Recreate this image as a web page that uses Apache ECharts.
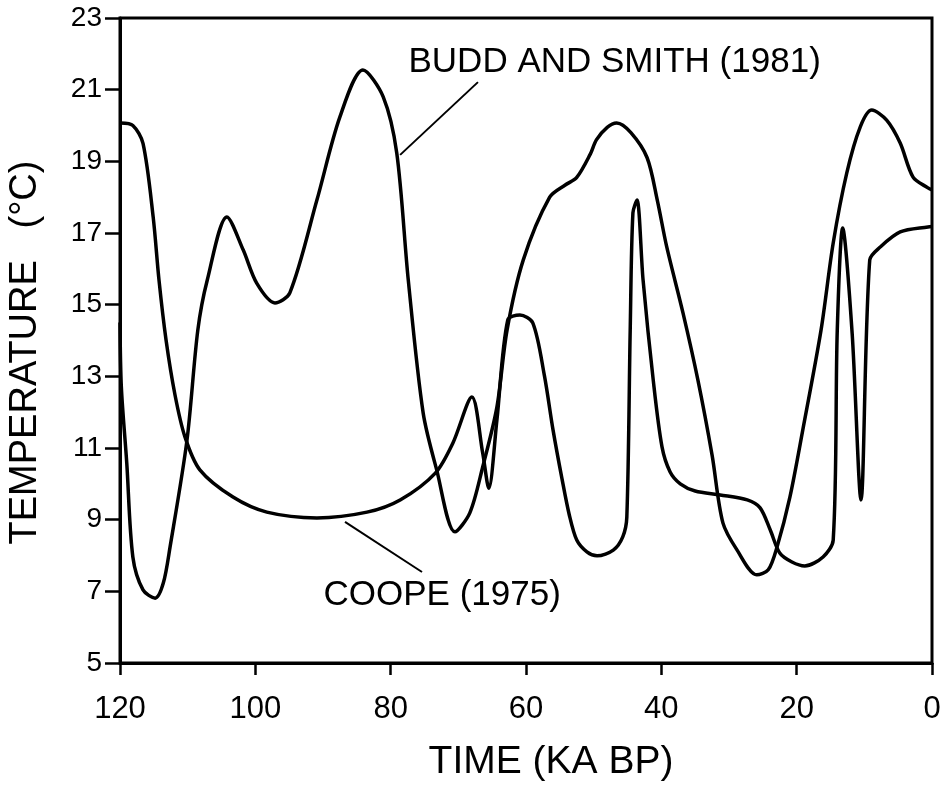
<!DOCTYPE html>
<html>
<head>
<meta charset="utf-8">
<script src="https://cdn.jsdelivr.net/npm/echarts@6/dist/echarts.min.js"></script>
<style>
html,body{margin:0;padding:0;background:#fff;}
#chart{width:945px;height:787px;}
</style>
</head>
<body>
<div id="chart"></div>
<script>
// Age (ka BP) and temperature (°C)
const coopeAge  = [119.9,118.1,116.6,115.1,114.24,113.2,111.87,110.4,108.2,103.3,98.3,90.9,83.5,78.6,73.4,70.8,68.0,66.4,65.5,64.3,62.7,60.9,59.0,57.3,56.0,54.7,53.6,52.5,51.0,49.5,47.1,45.7,45.1,44.6,44.2,43.6,42.7,41.2,39.9,38.7,37.2,35.0,31.3,27.3,25.4,23.9,22.5,20.7,18.8,16.1,14.6,14.0,13.2,11.8,10.5,9.2,7.7,4.7,0.6,0];
const coopeTemp = [20.07,20.0,19.5,17.45,15.69,14.02,12.48,11.31,10.39,9.63,9.21,9.05,9.21,9.55,10.30,11.14,12.42,10.86,9.88,11.78,14.57,14.71,14.49,13.04,11.5,10.16,9.13,8.43,8.1,7.99,8.15,8.52,9.07,14.29,17.56,17.92,15.69,12.9,11.03,10.33,10.0,9.8,9.69,9.55,9.33,8.71,8.07,7.82,7.71,7.96,8.43,14.29,17.14,14.2,9.55,16.25,16.6,17.03,17.17,17.18];
const buddAge   = [120,119.8,119.0,118.1,116.6,114.8,113.6,112.6,110.1,108.5,107.1,104.2,101.8,99.8,97.1,94.9,90.9,87.5,84.1,81.1,79.1,77.4,75.2,73.2,70.5,68.3,66.4,64.3,62.8,60.4,56.5,54.2,52.5,50.5,49.6,48.0,46.6,44.5,42.1,40.6,39.2,36.8,34.6,32.5,30.9,28.8,25.9,24.2,22.9,21.0,19.1,16.4,14.6,12.6,10.6,8.9,6.7,4.7,2.8,0.6,0];
const buddTemp  = [14.5,12.7,10.58,7.96,7.04,6.81,7.23,8.24,11.22,14.29,15.69,17.45,16.53,15.6,15.05,15.33,17.92,20.24,21.55,20.8,19.23,15.69,11.98,10.39,8.66,9.19,10.47,12.14,14.29,16.25,18.0,18.34,18.55,19.2,19.6,19.95,20.07,19.8,19.1,17.92,16.61,14.77,12.9,10.8,8.91,8.15,7.46,7.6,8.24,9.63,11.5,14.29,16.72,18.67,19.96,20.43,20.15,19.51,18.56,18.26,18.2];
const xTicks = [0,20,40,60,80,100,120];
const yTicks = [5,7,9,11,13,15,17,19,21,23];

const zip = (a,b) => a.map((v,i)=>[v,b[i]]);
const FONT = 'Liberation Sans, Arial, Helvetica, sans-serif';

const chart = echarts.init(document.getElementById('chart'), null, {renderer:'canvas'});
chart.setOption({
  animation:false,
  backgroundColor:'#fff',
  grid:{left:120,right:13,top:18,bottom:124,outerBoundsMode:'none',containLabel:false,
        show:true,borderColor:'#000',borderWidth:3,backgroundColor:'transparent'},
  xAxis:{
    type:'value',inverse:true,min:0,max:120,interval:20,
    name:'TIME (KA BP)',nameLocation:'middle',nameGap:80,
    nameTextStyle:{fontFamily:FONT,fontSize:39,color:'#000',padding:[0,0,0,50]},
    axisLine:{show:true,onZero:false,lineStyle:{color:'#000',width:3}},
    axisTick:{show:true,inside:false,length:12,lineStyle:{color:'#000',width:2.5},customValues:xTicks},
    axisLabel:{color:'#000',fontFamily:FONT,fontSize:31,margin:31,customValues:xTicks},
    splitLine:{show:false}
  },
  yAxis:{
    type:'value',min:5,max:23,
    name:'TEMPERATURE   (°C)',nameLocation:'middle',nameGap:75,
    nameTextStyle:{fontFamily:FONT,fontSize:38,color:'#000',padding:[0,24,0,0]},
    axisLine:{show:true,onZero:false,lineStyle:{color:'#000',width:3}},
    axisTick:{show:true,inside:false,length:15,lineStyle:{color:'#000',width:2.5},customValues:yTicks},
    axisLabel:{color:'#000',fontFamily:FONT,fontSize:28,margin:18,customValues:yTicks},
    splitLine:{show:false}
  },
  series:[
    {
      name:'COOPE (1975)',type:'line',data:zip(coopeAge,coopeTemp),
      smooth:0.3,showSymbol:false,symbol:'none',
      lineStyle:{color:'#000',width:3.5},
      markLine:{silent:true,symbol:'none',label:{show:false},
        lineStyle:{color:'#000',width:2,type:'solid'},
        data:[[{coord:[86.75,8.94]},{coord:[75.37,7.54]}]]},
      markPoint:{silent:true,symbol:'circle',symbolSize:1,itemStyle:{color:'rgba(0,0,0,0)'},
        label:{show:true,position:'right',distance:0,color:'#000',fontFamily:FONT,fontSize:35,formatter:'COOPE (1975)'},
        data:[{coord:[90.0,6.9]}]}
    },
    {
      name:'BUDD AND SMITH (1981)',type:'line',data:zip(buddAge,buddTemp),
      smooth:0.3,showSymbol:false,symbol:'none',
      lineStyle:{color:'#000',width:3.5},
      markLine:{silent:true,symbol:'none',label:{show:false},
        lineStyle:{color:'#000',width:2,type:'solid'},
        data:[[{coord:[67.1,21.21]},{coord:[78.6,19.18]}]]},
      markPoint:{silent:true,symbol:'circle',symbolSize:1,itemStyle:{color:'rgba(0,0,0,0)'},
        label:{show:true,position:'right',distance:0,color:'#000',fontFamily:FONT,fontSize:35,formatter:'BUDD AND SMITH (1981)'},
        data:[{coord:[77.44,21.77]}]}
    }
  ]
});
</script>
</body>
</html>
